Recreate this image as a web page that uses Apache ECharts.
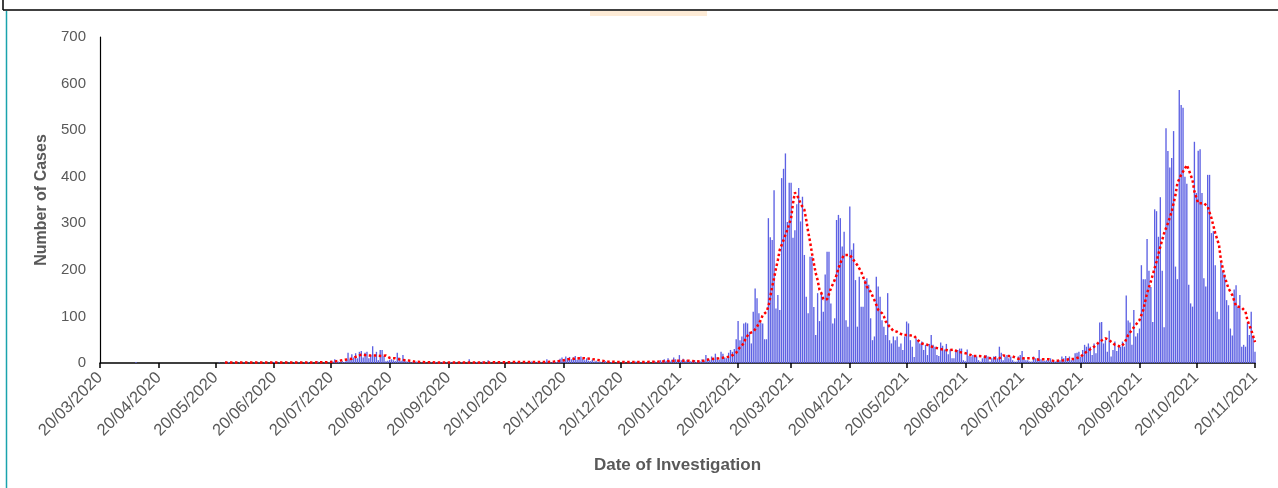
<!DOCTYPE html>
<html><head><meta charset="utf-8">
<script src="https://cdn.jsdelivr.net/npm/echarts@6/dist/echarts.min.js"></script>
<style>html,body{margin:0;padding:0;background:#fff;overflow:hidden}#c{width:1278px;height:488px}</style>
</head><body><div id="c"></div>
<script>
// first day of the series: 20/03/2020 (one value per day up to 20/11/2021)
const startYear = 2020, startMonth = 3, startDay = 20;

// daily cases
const dailyCases = [
  0,0,0,0,0,0,0,0,0,0,
  0,0,0,0,0,0,0,0,0,2,
  0,0,0,0,0,0,0,0,0,0,
  0,0,0,0,0,0,0,0,0,0,
  0,0,0,0,0,0,0,0,0,0,
  0,0,0,0,0,0,0,0,0,0,
  0,0,0,1,0,0,1,0,2,0,
  0,1,0,0,2,0,1,0,0,1,
  0,0,2,0,1,0,0,1,0,0,
  1,0,2,0,0,1,0,0,3,0,
  1,0,0,2,0,1,0,0,1,0,
  2,0,1,0,0,3,0,1,0,2,
  0,1,5,3,8,2,3,1,4,2,
  6,22,8,19,12,21,10,24,26,12,
  22,24,10,17,36,14,24,6,28,28,
  15,4,5,7,8,6,4,22,12,5,
  17,8,3,2,1,2,1,3,2,0,
  1,2,1,0,2,1,0,2,1,0,
  1,2,0,1,0,2,1,0,1,0,
  0,1,2,0,1,8,0,1,0,2,
  1,0,3,1,0,6,1,0,2,1,
  0,1,0,2,1,0,3,1,0,1,
  2,0,1,0,2,1,0,1,3,0,
  1,2,0,1,0,2,8,3,1,2,
  5,2,6,9,12,5,14,10,13,8,
  12,15,7,11,14,9,6,10,5,4,
  7,3,5,2,3,1,2,4,1,0,
  2,1,0,1,2,0,1,3,0,1,
  2,0,1,3,0,2,1,0,2,1,
  3,0,2,4,1,3,6,3,8,5,
  10,4,7,12,8,5,17,6,9,4,
  7,3,4,3,6,2,5,3,8,4,
  17,10,6,14,8,20,12,7,24,20,
  12,10,22,28,24,30,51,
  90,49,57,85,87,85,67,42,110,160,
  139,107,87,85,51,51,311,270,264,371,
  117,146,114,397,417,450,303,387,387,269,
  285,341,376,304,357,232,142,107,228,228,
  120,60,150,90,150,110,190,239,239,128,
  85,96,307,318,311,250,282,92,78,336,
  243,257,178,78,185,121,121,178,182,168,
  96,49,57,185,164,142,92,78,60,150,
  49,42,57,49,57,35,42,28,57,89,
  85,49,35,13,53,49,42,46,28,39,
  17,41,60,39,35,17,15,44,37,29,
  41,19,29,10,10,26,28,31,31,6,
  4,29,15,14,17,15,14,6,3,10,
  14,17,14,3,10,14,15,10,35,22,
  6,14,17,10,14,6,3,3,14,17,
  26,10,6,6,3,3,14,10,10,28,
  8,5,5,6,6,10,3,3,4,6,
  6,14,10,15,10,14,6,10,
  21,22,24,14,28,39,35,42,35,17,
  42,21,42,87,88,42,49,24,69,14,
  28,46,26,35,35,46,35,145,91,87,
  39,114,57,64,74,210,180,180,266,198,
  163,88,330,326,271,356,198,77,504,455,
  420,440,498,207,180,586,554,548,400,385,
  168,128,121,475,365,456,459,365,182,164,
  404,404,279,283,210,110,94,215,197,190,
  135,124,74,59,158,167,121,146,35,39,
  35,87,60,110,57,24
];

// moving-average curve: day number (0 = 20/03/2020) and value
const maDay = [
  66,80,95,110,122,125,128,131,133,135,138,140,143,146,149,151,153,156,158,161,164,166,170,180,200,
  220,235,240,244,247,250,253,256,259,262,265,268,275,285,295,300,305,310,314,
  317,322,327,333,336,338,340,341,343,345,347,349,350,352,353,354,355,356,357,358,359,361,362,363,364,
  365,366,367,368,369,370,371,372,373,374,375,376,377,378,379,380,381,382,384,385,386,388,389,390,391,
  392,393,394,396,397,398,400,401,402,403,404,405,407,408,409,410,411,413,414,415,417,419,421,422,424,
  427,430,432,434,437,438,440,443,445,448,451,453,456,459,461,464,467,469,472,475,477,480,482,485,488,
  490,493,496,498,501,504,506,509,512,515,518,521,525,528,531,533,536,539,541,543,545,547,549,551,553,
  555,558,560,562,564,566,568,569,571,573,574,575,577,578,580,583,585,587,589,591,592,594,596,598,600,
  603,605,606,608,610
];
const maValue = [
  1,1,1,1,2,4,6,8,9,13,18,17,16,16,15,16,11,10,8,6,5,3,2,1,1,
  2,2,3,5,8,9,10,10,9,7,5,3,2,2,3,4,5,5,4,
  3,8,10,14,22,34,42,53,64,67,78,92,103,110,121,142,164,182,203,221,243,264,275,286,289,
  311,343,366,363,354,342,342,329,307,282,261,236,214,193,178,157,150,137,137,148,160,178,189,203,214,
  225,232,233,232,228,221,210,203,196,185,175,164,153,144,135,125,114,107,100,89,78,69,67,64,60,
  60,58,49,42,39,35,34,31,29,27,29,24,22,19,15,15,14,11,10,10,16,15,14,9,10,
  10,10,7,8,8,4,5,6,8,9,14,24,35,46,53,49,39,35,42,60,71,82,92,114,150,
  175,218,250,279,300,325,361,386,404,418,425,415,393,368,343,343,336,311,279,253,221,185,160,146,122,
  119,110,92,71,45
];

const yMin = 0, yMax = 700, yStep = 100;

function fmtDate(i) {
  const d = new Date(Date.UTC(startYear, startMonth - 1, startDay + i));
  return String(d.getUTCDate()).padStart(2, '0') + '/' +
         String(d.getUTCMonth() + 1).padStart(2, '0') + '/' + d.getUTCFullYear();
}
const dates = dailyCases.map((_, i) => fmtDate(i));
const isMonthTick = (i, v) => String(v).startsWith('20/');
const maData = maDay.map((d, i) => [d, maValue[i]]);

const chart = echarts.init(document.getElementById('c'), null, {renderer: 'canvas'});
const FONT = '"Liberation Sans", Arial, sans-serif';
chart.setOption({
  animation: false,
  backgroundColor: '#ffffff',
  grid: {left: 100, right: 23, top: 37, bottom: 125, containLabel: false},
  xAxis: {
    type: 'category',
    data: dates,
    boundaryGap: false,
    name: 'Date of Investigation',
    nameLocation: 'middle',
    nameGap: 94,
    nameTextStyle: {fontFamily: FONT, fontSize: 17, fontWeight: 'bold', color: '#595959'},
    axisLine: {show: true, lineStyle: {color: '#000', width: 1.5}},
    axisTick: {show: true, interval: isMonthTick, length: 5, lineStyle: {color: '#000', width: 1.5}},
    axisLabel: {interval: isMonthTick, rotate: 45, margin: 12, fontFamily: FONT, fontSize: 16.5, color: '#595959'},
    splitLine: {show: false}
  },
  yAxis: {
    type: 'value',
    min: yMin, max: yMax, interval: yStep,
    name: 'Number of Cases',
    nameLocation: 'middle',
    nameGap: 49,
    nameTextStyle: {fontFamily: FONT, fontSize: 16, fontWeight: 'bold', color: '#595959'},
    axisLine: {show: true, lineStyle: {color: '#000', width: 1.2}},
    axisTick: {show: false},
    axisLabel: {margin: 14, fontFamily: FONT, fontSize: 15, color: '#595959'},
    splitLine: {show: false}
  },
  series: [
    {
      type: 'bar',
      data: dailyCases,
      barWidth: 1.35,
      itemStyle: {color: '#5d61e3'},
      z: 2
    },
    {
      type: 'line',
      data: maData,
      symbol: 'none',
      smooth: false,
      lineStyle: {color: '#ff0000', width: 2.5, type: [2.5, 2.5]},
      z: 3
    }
  ],
  graphic: [
    {type: 'line', shape: {x1: 3, y1: 10, x2: 1278, y2: 10}, style: {stroke: '#000', lineWidth: 1.5}},
    {type: 'line', shape: {x1: 3, y1: 0, x2: 3, y2: 10}, style: {stroke: '#000', lineWidth: 1.5}},
    {type: 'line', shape: {x1: 6.5, y1: 11, x2: 6.5, y2: 488}, style: {stroke: '#1aa3ad', lineWidth: 1.5}},
    {type: 'rect', shape: {x: 590, y: 11, width: 117, height: 5}, style: {fill: '#fdebd6'}}
  ]
});
</script>
</body></html>
